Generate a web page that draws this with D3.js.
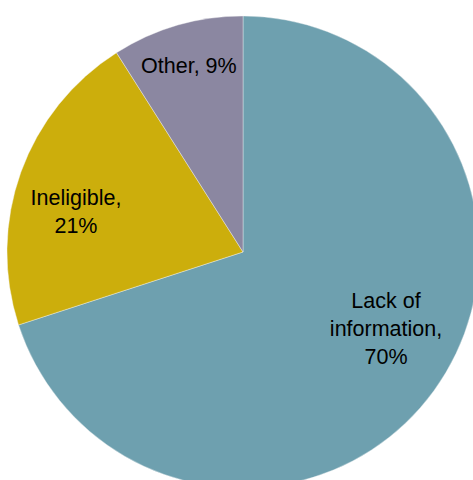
<!DOCTYPE html>
<html>
<head>
<meta charset="utf-8">
<script src="https://cdn.jsdelivr.net/npm/d3@7"></script>
<style>
  html, body { margin: 0; padding: 0; background: #ffffff; }
  svg { display: block; }
</style>
</head>
<body>
<svg id="chart" width="473" height="480"></svg>
<script>
// ---- data ----
const categories = ["Lack of information", "Ineligible", "Other"];
const values = [70, 21, 9];
const labelLines = [["Lack of", "information,", "70%"], ["Ineligible,", "21%"], ["Other, 9%"]];
const colors = ["#6EA0AF", "#CCAE0C", "#8B87A1"];

// ---- layout ----
const cx = 243, cy = 252, radius = 236;
const labelRadius = [162, 172, 194];
const labelAngleNudge = [-8, -6, 0]; // degrees
const lineHeight = 28;

const svg = d3.select("#chart");
const g = svg.append("g").attr("transform", `translate(${cx},${cy})`);

const pie = d3.pie().sort(null).value(d => d.value);
const data = categories.map((c, i) => ({ name: c, value: values[i], lines: labelLines[i], color: colors[i] }));
const arcs = pie(data);
const arc = d3.arc().innerRadius(0).outerRadius(radius);

g.selectAll("path.slice")
  .data(arcs)
  .enter().append("path")
  .attr("class", "slice")
  .attr("d", arc)
  .attr("fill", d => d.data.color)
  .attr("stroke", "#f4f4f4")
  .attr("stroke-width", 0.4);

g.selectAll("text.label")
  .data(arcs)
  .enter().append("text")
  .attr("class", "label")
  .attr("text-anchor", "middle")
  .attr("font-family", "'Liberation Sans', Arial, sans-serif")
  .attr("font-size", 21.5)
  .attr("fill", "#000000")
  .each(function(d, i) {
    const mid = (d.startAngle + d.endAngle) / 2 + labelAngleNudge[i] * Math.PI / 180;
    const r = labelRadius[i];
    const x = Math.sin(mid) * r;
    const y = -Math.cos(mid) * r;
    const n = d.data.lines.length;
    const t = d3.select(this);
    d.data.lines.forEach((line, k) => {
      t.append("tspan")
        .attr("x", x)
        .attr("y", y + (k - (n - 1) / 2) * lineHeight)
        .attr("dy", "0.35em")
        .text(line);
    });
  });
</script>
</body>
</html>
